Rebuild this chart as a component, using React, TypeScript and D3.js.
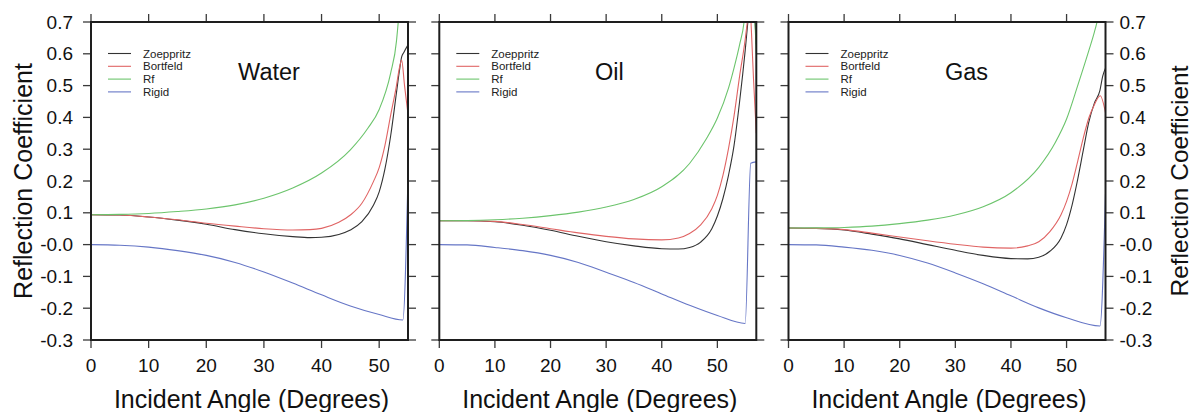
import React from "react";
import * as d3 from "d3";

type Pt = [number, number];

// ---------- data (angle in degrees, reflection coefficient) ----------
const waterZoeppritz: Pt[] = [[0,0.094],[5,0.093],[10,0.087],[15,0.077],[20,0.064],[25,0.047],[30,0.034],[35,0.025],[38,0.022],[40,0.023],[43,0.032],[45,0.046],[47,0.072],[49,0.124],[50,0.166],[51,0.238],[52,0.343],[53,0.478],[53.5,0.545],[53.9,0.59],[54.3,0.605],[55,0.628]];
const waterBortfeld: Pt[] = [[0,0.094],[5,0.093],[10,0.087],[15,0.078],[20,0.067],[25,0.058],[30,0.05],[35,0.046],[38,0.047],[40,0.051],[43,0.07],[45,0.093],[47,0.13],[49,0.198],[50,0.242],[51,0.312],[52,0.408],[53,0.5],[53.5,0.555],[53.9,0.58],[54.4,0.5],[55,0.41]];
const waterRf: Pt[] = [[0,0.094],[5,0.095],[10,0.098],[15,0.104],[20,0.112],[25,0.125],[30,0.146],[35,0.178],[40,0.225],[45,0.298],[48,0.365],[50,0.425],[52,0.54],[53,0.64],[53.5,0.75],[54,0.95],[54.5,0.85],[55,0.66]];
const waterRigid: Pt[] = [[0,0],[5,-0.002],[10,-0.008],[15,-0.019],[20,-0.034],[25,-0.056],[30,-0.086],[35,-0.121],[40,-0.158],[45,-0.193],[50,-0.22],[54.1,-0.237],[55,0.22]];

const oilZoeppritz: Pt[] = [[0,0.075],[5,0.075],[10,0.072],[15,0.061],[20,0.045],[25,0.026],[30,0.009],[35,-0.004],[40,-0.013],[43,-0.014],[45,-0.009],[47,0.008],[49,0.05],[50,0.09],[51,0.145],[52,0.218],[53,0.312],[54,0.45],[55,0.61],[55.6,0.72],[56.2,0.8],[57,0.63]];
const oilBortfeld: Pt[] = [[0,0.075],[5,0.075],[10,0.073],[15,0.063],[20,0.05],[25,0.037],[30,0.026],[35,0.018],[40,0.015],[43,0.021],[45,0.035],[47,0.062],[49,0.113],[50,0.155],[51,0.218],[52,0.302],[53,0.405],[54,0.53],[55,0.645],[55.5,0.72],[55.8,0.78],[56.1,0.68],[56.5,0.52],[57,0.35]];
const oilRf: Pt[] = [[0,0.075],[5,0.0755],[10,0.078],[15,0.083],[20,0.091],[25,0.102],[30,0.118],[35,0.142],[40,0.182],[45,0.255],[48,0.332],[50,0.398],[52,0.492],[53,0.556],[54,0.629],[54.8,0.7],[55.5,0.85],[56.3,0.82],[57,0.6]];
const oilRigid: Pt[] = [[0,0],[5,-0.001],[10,-0.009],[15,-0.019],[20,-0.034],[25,-0.056],[30,-0.087],[35,-0.119],[40,-0.155],[45,-0.191],[50,-0.223],[55,-0.248],[56,0.256],[57,0.26]];

const gasZoeppritz: Pt[] = [[0,0.052],[5,0.051],[10,0.046],[15,0.033],[20,0.018],[25,0],[30,-0.018],[35,-0.034],[40,-0.044],[43,-0.045],[45,-0.04],[47,-0.021],[49,0.021],[50,0.063],[51,0.125],[52,0.205],[53,0.296],[54,0.385],[55,0.445],[56,0.485],[56.5,0.53],[57,0.555]];
const gasBortfeld: Pt[] = [[0,0.052],[5,0.051],[10,0.047],[15,0.036],[20,0.024],[25,0.012],[30,0.001],[35,-0.008],[40,-0.011],[43,-0.004],[45,0.009],[47,0.041],[49,0.094],[50,0.136],[51,0.192],[52,0.262],[53,0.335],[54,0.398],[55,0.44],[56.05,0.468],[57,0.415]];
const gasRf: Pt[] = [[0,0.052],[5,0.0525],[10,0.054],[15,0.058],[20,0.066],[25,0.077],[30,0.093],[35,0.119],[40,0.163],[45,0.243],[48,0.322],[50,0.395],[52,0.5],[54,0.61],[55,0.668],[55.6,0.71],[56,0.75],[57,0.82]];
const gasRigid: Pt[] = [[0,0],[5,-0.001],[10,-0.008],[15,-0.018],[20,-0.034],[25,-0.058],[30,-0.089],[35,-0.123],[40,-0.161],[45,-0.199],[50,-0.23],[56,-0.256],[57,0.16]];

const seriesNames = ["Zoeppritz", "Bortfeld", "Rf", "Rigid"];
const seriesColors = ["#333333", "#e06464", "#6cc46c", "#6676c6"];
const panelTitles = ["Water", "Oil", "Gas"];
const panelMaxAngle = [55, 57, 57];
const xTicks = [0, 10, 20, 30, 40, 50];
const yTicks = [0.7, 0.6, 0.5, 0.4, 0.3, 0.2, 0.1, 0, -0.1, -0.2, -0.3];
const yTickLabels = ["0.7", "0.6", "0.5", "0.4", "0.3", "0.2", "0.1", "-0.0", "-0.1", "-0.2", "-0.3"];
const panelData: Pt[][][] = [
  [waterZoeppritz, waterBortfeld, waterRf, waterRigid],
  [oilZoeppritz, oilBortfeld, oilRf, oilRigid],
  [gasZoeppritz, gasBortfeld, gasRf, gasRigid],
];

// ---------- layout ----------
const W = 1193, H = 412;
const panelLeft = [91, 439.3, 788.5];
const panelW = 317;
const top = 22, bottom = 340;
const titleOffset = [178, 170, 178];
const font = "'Liberation Sans', Arial, Helvetica, sans-serif";
const tickLen = 8;

const yScale = d3.scaleLinear().domain([-0.3, 0.7]).range([bottom, top]);

function Panel({ idx }: { idx: number }) {
  const left = panelLeft[idx];
  const right = left + panelW;
  const x = d3.scaleLinear().domain([0, panelMaxAngle[idx]]).range([left, right]);
  const line = d3
    .line<Pt>()
    .x((d) => x(d[0]))
    .y((d) => yScale(d[1]))
    .curve(d3.curveMonotoneX);
  const clipId = `clip${idx}`;
  const tickStroke = "#3a3a3a";
  return (
    <g>
      <defs>
        <clipPath id={clipId}>
          <rect x={left} y={top} width={panelW} height={bottom - top} />
        </clipPath>
      </defs>
      {yTicks.map((t, i) => (
        <g key={"y" + i} stroke={tickStroke} strokeWidth={1.3}>
          <line x1={left - tickLen} x2={left} y1={yScale(t)} y2={yScale(t)} />
          <line x1={right} x2={right + tickLen} y1={yScale(t)} y2={yScale(t)} />
        </g>
      ))}
      {xTicks.map((t, i) => (
        <g key={"x" + i} stroke={tickStroke} strokeWidth={1.3}>
          <line x1={x(t)} x2={x(t)} y1={top - tickLen} y2={top} />
          <line x1={x(t)} x2={x(t)} y1={bottom} y2={bottom + tickLen} />
        </g>
      ))}
      <g clipPath={`url(#${clipId})`}>
        {panelData[idx].map((s, si) => (
          <path key={si} d={line(s) || ""} fill="none" stroke={seriesColors[si]} strokeWidth={1.1} />
        ))}
      </g>
      <rect x={left} y={top} width={panelW} height={bottom - top} fill="none" stroke="#1e1e1e" strokeWidth={2} />
      {xTicks.map((t, i) => (
        <text key={"xl" + i} x={x(t)} y={372} textAnchor="middle" fontSize={19} fontFamily={font} fill="#111">
          {t}
        </text>
      ))}
      <text x={(left + right) / 2 + 2} y={408} textAnchor="middle" fontSize={25} fontFamily={font} fill="#111">
        Incident Angle (Degrees)
      </text>
      <text x={left + titleOffset[idx]} y={80} textAnchor="middle" fontSize={23.5} fontFamily={font} fill="#111">
        {panelTitles[idx]}
      </text>
      {seriesNames.map((n, si) => {
        const ly = 53.5 + si * 12.8;
        return (
          <g key={"lg" + si}>
            <line x1={left + 17} x2={left + 40} y1={ly} y2={ly} stroke={seriesColors[si]} strokeWidth={1.1} />
            <text x={left + 52} y={ly} dominantBaseline="central" fontSize={11.5} fontFamily={font} fill="#222">
              {n}
            </text>
          </g>
        );
      })}
    </g>
  );
}

export default function App() {
  const yMid = (top + bottom) / 2;
  const lastRight = panelLeft[2] + panelW;
  return (
    <svg width={W} height={H} style={{ position: "absolute", left: 0, top: 0, background: "#fff" }}>
      {[0, 1, 2].map((i) => (
        <Panel key={i} idx={i} />
      ))}
      {yTicks.map((t, i) => (
        <text key={"ly" + i} x={73} y={yScale(t)} dominantBaseline="central" textAnchor="end" fontSize={19} fontFamily={font} fill="#111">
          {yTickLabels[i]}
        </text>
      ))}
      {yTicks.map((t, i) => (
        <text key={"ry" + i} x={lastRight + 14} y={yScale(t)} dominantBaseline="central" textAnchor="start" fontSize={19} fontFamily={font} fill="#111">
          {yTickLabels[i]}
        </text>
      ))}
      <text transform={`translate(32,${yMid}) rotate(-90)`} textAnchor="middle" fontSize={25} fontFamily={font} fill="#111">
        Reflection Coefficient
      </text>
      <text transform={`translate(1188,${yMid}) rotate(-90)`} textAnchor="middle" fontSize={24.5} fontFamily={font} fill="#111">
        Reflection Coefficient
      </text>
    </svg>
  );
}
